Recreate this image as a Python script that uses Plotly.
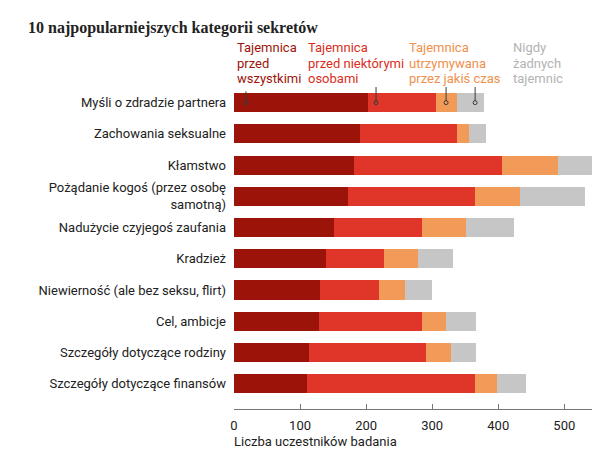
import plotly.graph_objects as go

categories = [
    "Myśli o zdradzie partnera",
    "Zachowania seksualne",
    "Kłamstwo",
    "Pożądanie kogoś (przez osobę<br>samotną)",
    "Nadużycie czyjegoś zaufania",
    "Kradzież",
    "Niewierność (ale bez seksu, flirt)",
    "Cel, ambicje",
    "Szczegóły dotyczące rodziny",
    "Szczegóły dotyczące finansów",
]
przed_wszystkimi = [203, 190, 182, 173, 151, 140, 130, 129, 113, 110]
przed_niektorymi = [102, 147, 223, 192, 134, 87, 89, 156, 177, 255]
jakis_czas = [33, 18, 85, 68, 66, 51, 40, 36, 39, 33]
nigdy = [40, 27, 70, 99, 73, 54, 40, 45, 37, 44]

series_lines = [["Tajemnica", "przed", "wszystkimi"],
                ["Tajemnica", "przed niektórymi", "osobami"],
                ["Tajemnica", "utrzymywana", "przez jakiś czas"],
                ["Nigdy", "żadnych", "tajemnic"]]
bar_colors = ["#9c1409", "#e0362a", "#f29a57", "#c6c6c6"]
text_colors = ["#9c1409", "#d92e22", "#f0904c", "#b3b3b3"]
label_x = [2, 109, 262, 419]
leader_x = [18, 215, 321, 365]

tick_vals = [0, 100, 200, 300, 400, 500]

FONT = "Roboto, Liberation Sans, sans-serif"

W, H = 592, 442
ML, MR, MT, MB = 226, 0, 79, 41
PH = H - MT - MB
PW = W - ML - MR

fig = go.Figure()
for vals, name, col in zip([przed_wszystkimi, przed_niektorymi, jakis_czas, nigdy],
                           [" ".join(s) for s in series_lines], bar_colors):
    fig.add_trace(go.Bar(y=categories, x=vals, orientation="h", name=name,
                         marker=dict(color=col, line=dict(width=0)),
                         showlegend=False, hoverinfo="x"))

# legend-like labels (one annotation per line for tight line spacing)
line_py = [40, 55, 70]
for lines, col, lx in zip(series_lines, text_colors, label_x):
    for txt, py in zip(lines, line_py):
        fig.add_annotation(x=lx, xref="x", y=(H - MB - py) / PH, yref="paper",
                           text=txt, showarrow=False, xanchor="left",
                           yanchor="middle", align="left",
                           font=dict(family=FONT, size=13, color=col))

# leader lines
lc = "#3a3a3a"
fig.add_shape(type="line", xref="x", yref="y", x0=leader_x[0], x1=leader_x[0],
              y0=-0.36, y1=0, line=dict(color=lc, width=1))
fig.add_shape(type="line", xref="x", yref="y", x0=leader_x[1], x1=leader_x[1],
              y0=-0.96, y1=0, line=dict(color=lc, width=1))
fig.add_shape(type="line", xref="x", yref="y", x0=leader_x[2], x1=leader_x[2],
              y0=-0.58, y1=-0.05, line=dict(color=lc, width=1))
fig.add_shape(type="path", xref="x", yref="y",
              path=f"M 414 -0.8 L {leader_x[3]} -0.62 L {leader_x[3]} -0.05",
              line=dict(color=lc, width=1))
fig.add_trace(go.Scatter(x=leader_x, y=[categories[0]] * 4, mode="markers",
                         marker=dict(symbol="circle-open", size=4, color=lc,
                                     line=dict(width=1, color=lc)),
                         showlegend=False, hoverinfo="skip"))

# title
fig.add_annotation(x=(18 - ML) / PW, xref="paper", y=(H - MB - 20) / PH, yref="paper",
                   text="<b>10 najpopularniejszych kategorii sekretów</b>",
                   showarrow=False, xanchor="left", yanchor="middle",
                   font=dict(family="Liberation Serif, serif", size=16, color="#222"))

# x-axis title
fig.add_annotation(x=-0.006, xref="paper", y=(H - MB - 433) / PH, yref="paper",
                   text="Liczba uczestników badania", showarrow=False,
                   xanchor="left", yanchor="middle",
                   font=dict(family=FONT, size=13, color="#222"))

fig.update_layout(
    width=W, height=H,
    margin=dict(l=ML, r=MR, t=MT, b=MB, autoexpand=False),
    barmode="stack", bargap=0.39,
    paper_bgcolor="white", plot_bgcolor="white",
    font=dict(family=FONT, size=13, color="#222"),
    xaxis=dict(range=[0, 554], tickvals=tick_vals, showgrid=False, zeroline=False,
               showline=True, linecolor="#777", linewidth=1,
               ticks="inside", ticklen=5, tickcolor="#777",
               ticklabelstandoff=4,
               tickfont=dict(size=13, color="#222"), automargin=False),
    yaxis=dict(categoryorder="array", categoryarray=categories,
               range=[9.81, -0.5], showgrid=False, zeroline=False,
               showline=False, ticks="", ticklabelstandoff=7,
               tickfont=dict(size=13, color="#222"), automargin=False),
)

fig.write_html("out.html")
